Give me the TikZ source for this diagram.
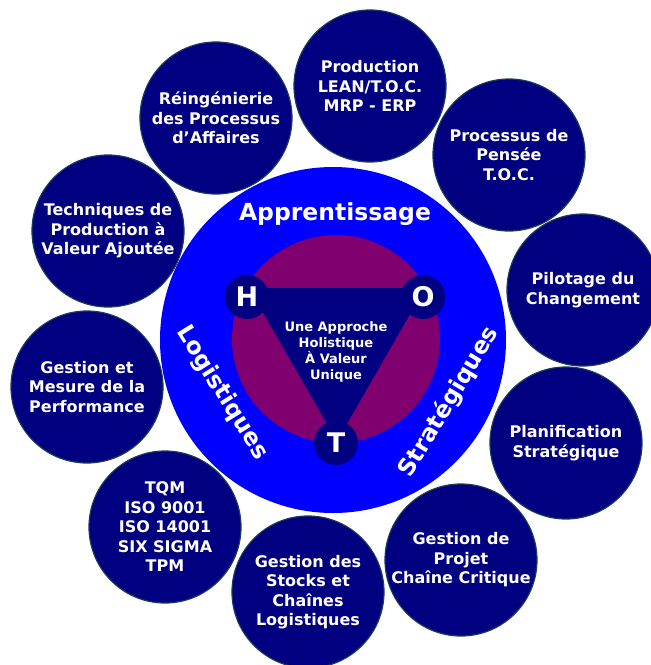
\documentclass[tikz,border=0pt]{standalone}
\usepackage{fontspec}
\setmainfont{DejaVu Sans}
\definecolor{navyfill}{RGB}{0,0,128}
\definecolor{ringblue}{RGB}{0,0,255}
\definecolor{hotpurple}{RGB}{128,0,112}
\definecolor{rimteal}{RGB}{25,60,90}
\begin{document}
\begin{tikzpicture}[x=1pt, y=-1pt,
  topic/.style={circle, fill=navyfill, draw=rimteal, line width=1.2pt, minimum size=152pt,
    inner sep=0pt, align=center, text=white, font=\bfseries\fontsize{16}{19.5}\selectfont},
  pillar/.style={circle, fill=navyfill, minimum size=44pt, inner sep=0pt, text=white,
    font=\bfseries\fontsize{27}{30}\selectfont},
  axis/.style={text=white, inner sep=0pt, font=\bfseries\fontsize{23.5}{26}\selectfont}]
  \useasboundingbox (0,0) rectangle (651,665);

  % Central blue disc with purple core
  \fill[ringblue] (333,340) circle[radius=173pt];
  \fill[hotpurple] (336,339) circle[radius=104pt];

  % Triangle joining the three pillars
  \fill[navyfill] (249,288) -- (425,288) -- (337,441) -- cycle;
  \node[pillar] (H) at (247,297) {H};
  \node[pillar] (O) at (423,297) {O};
  \node[pillar] (T) at (336,443) {T};
  \node[text=white, align=center, font=\bfseries\fontsize{13}{16}\selectfont] (motto) at (336,352)
    {Une Approche\\Holistique\\À Valeur\\Unique};

  % Labels around the core
  \node[axis, anchor=base] (learn) at (335,220) {Apprentissage};
  \node[axis, rotate=-58] (logi) at (222,393) {Logistiques};
  \node[axis, rotate=59] (strat) at (449,402) {Stratégiques};

  % Surrounding topic circles
  \node[topic] (prod) at (370,86) {Production\\LEAN/T.O.C.\\MRP - ERP};
  \node[topic] (pensee) at (509,155) {Processus de\\Pensée\\T.O.C.};
  \node[topic] (pilot) at (583,290) {Pilotage du\\Changement};
  \node[topic] (plan) at (566,443) {Planification\\Stratégique};
  \node[topic] (projet) at (461,560) {Gestion de\\Projet\\Chaîne Critique};
  \node[topic] (stocks) at (308,592) {Gestion des\\Stocks et\\Chaînes\\Logistiques};
  \node[topic] (tqm) at (165,527) {TQM\\ISO 9001\\ISO 14001\\SIX SIGMA\\TPM};
  \node[topic] (perf) at (87,387) {Gestion et\\Mesure de la\\Performance};
  \node[topic] (tech) at (108,231) {Techniques de\\Production à\\Valeur Ajoutée};
  \node[topic] (reing) at (216,118) {Réingénierie\\des Processus\\d’Affaires};
\end{tikzpicture}
\end{document}
